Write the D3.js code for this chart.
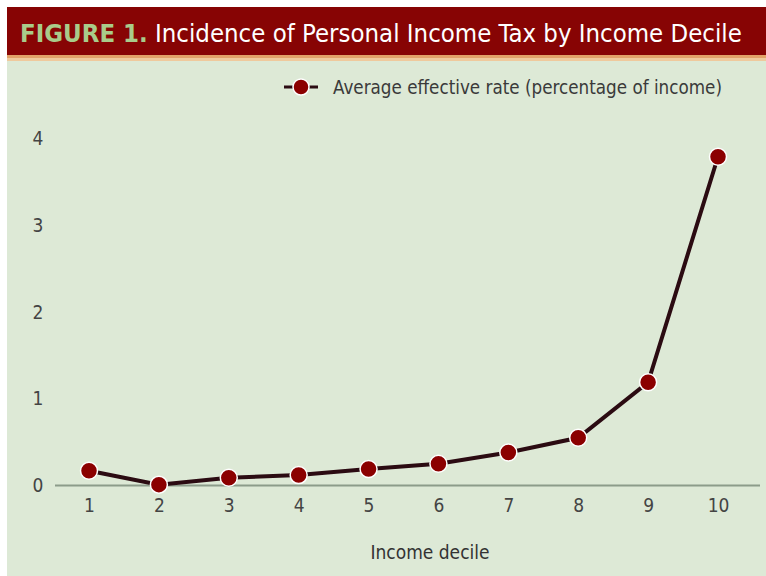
<!DOCTYPE html>
<html>
<head>
<meta charset="UTF-8">
<title>Incidence of Personal Income Tax by Income Decile</title>
<style>
  body { margin: 0; background: #fff; }
  svg text { font-family: "DejaVu Sans Condensed", "DejaVu Sans", sans-serif; }
</style>
</head>
<body>
<script src="https://d3js.org/d3.v7.min.js"></script>
<svg width="766" height="576"></svg>
<script>
// chart data
var deciles = [1, 2, 3, 4, 5, 6, 7, 8, 9, 10];
var rates = [0.17, 0.01, 0.09, 0.12, 0.19, 0.25, 0.38, 0.55, 1.19, 3.79];
var yTicks = [0, 1, 2, 3, 4];
var seriesName = "Average effective rate (percentage of income)";
var xTitle = "Income decile";

var svg = d3.select("svg");

// background panel + header
svg.append("rect").attr("x", 7).attr("y", 60).attr("width", 759).attr("height", 516).attr("fill", "#dde9d6");
svg.append("rect").attr("x", 7).attr("y", 7).attr("width", 759).attr("height", 48).attr("fill", "#870404");
svg.append("rect").attr("x", 7).attr("y", 55).attr("width", 759).attr("height", 3).attr("fill", "#e2a268");
svg.append("rect").attr("x", 7).attr("y", 58).attr("width", 759).attr("height", 3).attr("fill", "#efc99c");

var title = svg.append("text")
  .attr("x", 20).attr("y", 42)
  .attr("font-size", 27);
title.append("tspan").attr("fill", "#a9cc8a").attr("font-weight", "bold").text("FIGURE 1.");
title.append("tspan").attr("fill", "#ffffff").text(" Incidence of Personal Income Tax by Income Decile");
// shrink the font so the title spans x 20..744
var tw = title.node().getComputedTextLength();
if (tw > 0) title.attr("font-size", Math.min(28, 27 * 722 / tw));

var x = d3.scaleLinear().domain([1, 10]).range([89, 718]);
var y = d3.scaleLinear().domain([0, 4]).range([485.5, 138.5]);

// baseline
svg.append("line")
  .attr("x1", 55).attr("x2", 760)
  .attr("y1", y(0)).attr("y2", y(0))
  .attr("stroke", "#8c9c8a").attr("stroke-width", 2);

// y axis labels
var yAxis = svg.append("g")
  .attr("transform", "translate(45,0)")
  .call(d3.axisLeft(y).tickValues(yTicks).tickSize(0).tickPadding(0).tickFormat(d3.format("d")));
yAxis.select(".domain").remove();
yAxis.selectAll("text")
  .attr("text-anchor", "middle").attr("dx", "-7")
  .attr("font-size", 19).attr("fill", "#444")
  .style("font-family", "DejaVu Sans Condensed, sans-serif");

// x axis labels
var xAxis = svg.append("g")
  .attr("transform", "translate(0," + y(0) + ")")
  .call(d3.axisBottom(x).tickValues(deciles).tickSize(0).tickPadding(13).tickFormat(d3.format("d")));
xAxis.select(".domain").remove();
xAxis.selectAll("text")
  .attr("font-size", 19).attr("fill", "#444")
  .style("font-family", "DejaVu Sans Condensed, sans-serif");

svg.append("text")
  .attr("x", 430).attr("y", 559)
  .attr("text-anchor", "middle")
  .attr("font-size", 19).attr("fill", "#333")
  .text(xTitle);

// line
var line = d3.line()
  .x(function(d, i) { return x(deciles[i]); })
  .y(function(d) { return y(d); });

svg.append("path")
  .datum(rates)
  .attr("d", line)
  .attr("fill", "none")
  .attr("stroke", "#2b0b12")
  .attr("stroke-width", 4);

svg.selectAll(".pt")
  .data(rates)
  .enter().append("circle")
  .attr("class", "pt")
  .attr("cx", function(d, i) { return x(deciles[i]); })
  .attr("cy", function(d) { return y(d); })
  .attr("r", 8.5)
  .attr("fill", "#8b0000")
  .attr("stroke", "#ffffff")
  .attr("stroke-width", 1.5);

// legend
var lg = svg.append("g");
lg.append("line").attr("x1", 284).attr("x2", 318).attr("y1", 87).attr("y2", 87)
  .attr("stroke", "#2b0b12").attr("stroke-width", 3);
lg.append("circle").attr("cx", 301).attr("cy", 87).attr("r", 8)
  .attr("fill", "#8b0000").attr("stroke", "#fff").attr("stroke-width", 1.5);
lg.append("text").attr("x", 333).attr("y", 94)
  .attr("font-size", 19).attr("fill", "#3a3a3a")
  .attr("textLength", 389).attr("lengthAdjust", "spacingAndGlyphs")
  .text(seriesName);
</script>
</body>
</html>
